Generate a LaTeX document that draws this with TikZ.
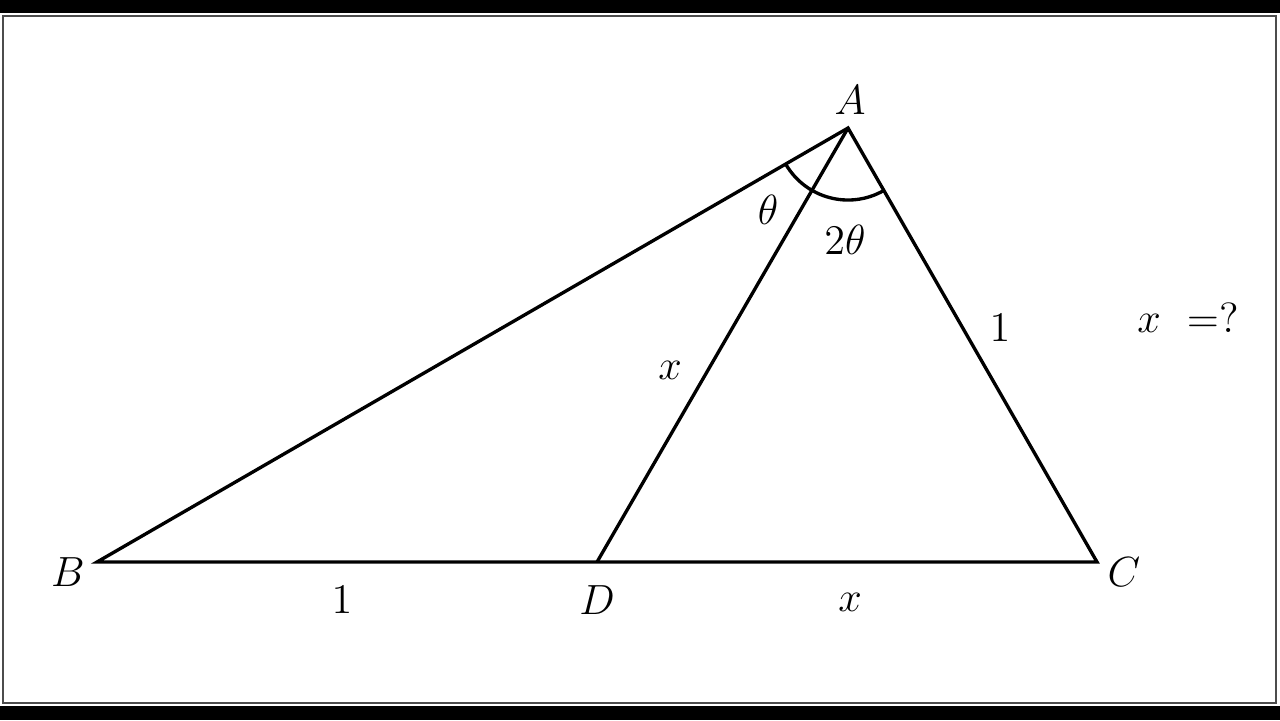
\documentclass[tikz,border=0pt]{standalone}
\begin{document}
\begin{tikzpicture}[x=0.01cm,y=-0.01cm,
  edge/.style={line width=0.95pt,black},
  lbl/.style={font=\fontsize{12.5}{14}\selectfont,inner sep=0pt}]
\useasboundingbox (0,0) rectangle (1280,720);
\fill[white] (0,0) rectangle (1280,720);
\fill[black] (0,0) rectangle (1280,13);
\fill[black] (0,706) rectangle (1280,720);
\draw[line width=0.5pt,black!70] (3,16) rectangle (1276,703);
\coordinate (A) at (848,128);
\coordinate (B) at (97,562);
\coordinate (C) at (1097,562);
\coordinate (D) at (597,562);
\draw[edge,line join=miter] (A) -- (B) -- (C) -- cycle;
\draw[edge] (A) -- (D);
\draw[edge] (A) ++(149.98:72) arc[start angle=149.98,end angle=60.15,radius=72];
\node[lbl] (lA) at (850,100) {$A$};
\node[lbl] (lB) at (68,572) {$B$};
\node[lbl] (lC) at (1124,572) {$C$};
\node[lbl] (lD) at (597,600) {$D$};
\node[lbl] (l1) at (342,600) {$1$};
\node[lbl] (lx) at (850,602) {$x$};
\node[lbl] (lAD) at (670,370) {$x$};
\node[lbl] (lAC) at (1000,328) {$1$};
\node[lbl] (th) at (768,210) {$\theta$};
\node[lbl] (th2) at (845,240) {$2\theta$};
\node[lbl] (q) at (1188,318) {$x\ =?$};
\end{tikzpicture}
\end{document}
